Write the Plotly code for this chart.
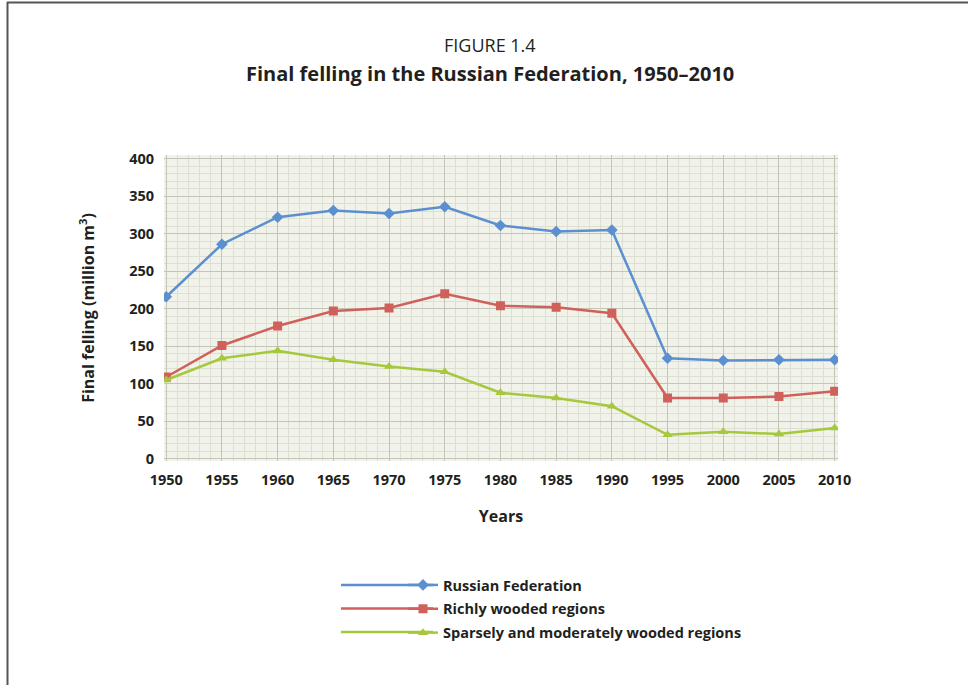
import plotly.graph_objects as go

years = [1950, 1955, 1960, 1965, 1970, 1975, 1980, 1985, 1990, 1995, 2000, 2005, 2010]
russian_federation = [216, 286, 322, 331, 327, 336, 311, 303, 305, 134, 131, 132, 132]
richly_wooded = [109, 151, 177, 197, 201, 220, 204, 202, 194, 81, 81, 83, 90]
sparsely_wooded = [105, 134, 144, 132, 123, 116, 88, 81, 70, 32, 36, 33, 41]

series_names = ["Russian Federation", "Richly wooded regions", "Sparsely and moderately wooded regions"]
colors = ["#5b8fd0", "#d0605a", "#a5c83c"]
symbols = ["diamond", "square", "triangle-up"]

FONT = "Open Sans"
TXT = "#231f20"

fig = go.Figure()
for i, (name, vals, c, s) in enumerate(zip(series_names, [russian_federation, richly_wooded, sparsely_wooded], colors, symbols)):
    fig.add_trace(go.Scatter(
        x=years, y=vals, name=name, mode="lines+markers", legendgroup=f"g{i}",
        line=dict(color=c, width=2.5),
        marker=dict(symbol=s, size=9, color=c),
    ))

W, H = 968, 685
L, R, T, B = 164, 968 - 838, 155, 685 - 461
pw, ph = W - L - R, H - T - B

def px(x):
    return (x - L) / pw

def py(y):
    return 1 - (y - T) / ph

legend_rows = [585, 608.5, 632]
shapes = [
    dict(type="line", xref="paper", yref="paper", x0=px(7), x1=px(968), y0=py(2.5), y1=py(2.5),
         line=dict(color="#555555", width=2)),
    dict(type="line", xref="paper", yref="paper", x0=px(7.5), x1=px(7.5), y0=py(2), y1=py(690),
         line=dict(color="#555555", width=2)),
]
for yy, c in zip(legend_rows, colors):
    shapes.append(dict(type="line", xref="paper", yref="paper", x0=px(341), x1=px(433), y0=py(yy), y1=py(yy),
                       line=dict(color=c, width=2.5), layer="below"))

fig.update_layout(
    width=W, height=H,
    margin=dict(l=L, r=R, t=T, b=B),
    paper_bgcolor="white",
    plot_bgcolor="#f1f2e9",
    font=dict(family=FONT, color=TXT),
    showlegend=True,
    legend=dict(
        x=px(403), y=py(569), xanchor="left", yanchor="top",
        font=dict(size=14.5, family=FONT, color=TXT, weight="bold"),
        bgcolor="rgba(0,0,0,0)", tracegroupgap=2,
    ),
    annotations=[
        dict(text="FIGURE 1.4", x=px(490), y=py(45), xref="paper", yref="paper", yanchor="middle",
             showarrow=False, font=dict(size=18, family=FONT, color=TXT)),
        dict(text="<b>Final felling in the Russian Federation, 1950–2010</b>", x=px(490), y=py(73),
             xref="paper", yref="paper", yanchor="middle", showarrow=False,
             font=dict(size=20, family=FONT, color=TXT)),
    ],
    shapes=shapes,
)

fig.update_xaxes(
    range=[1949.8, 2010.3], tickmode="array", tickvals=years, ticktext=[str(y) for y in years],
    tickfont=dict(size=14.5, family=FONT, color=TXT, weight="bold"),
    ticks="outside", ticklen=6, tickcolor="rgba(0,0,0,0)",
    showgrid=True, gridcolor="#c2c5b8", gridwidth=1, zeroline=False, showline=False,
    minor=dict(dtick=1, tick0=1950, showgrid=True, gridcolor="#dcdfd2", gridwidth=1),
    title=dict(text="<b>Years</b>", font=dict(size=16, family=FONT, color=TXT), standoff=22),
)
fig.update_yaxes(
    range=[-3, 405], tickmode="linear", tick0=0, dtick=50,
    tickfont=dict(size=14.5, family=FONT, color=TXT, weight="bold"),
    ticks="outside", ticklen=6, tickcolor="rgba(0,0,0,0)",
    showgrid=True, gridcolor="#c2c5b8", gridwidth=1, zeroline=False, showline=False,
    minor=dict(dtick=10, tick0=0, showgrid=True, gridcolor="#dcdfd2", gridwidth=1),
    title=dict(text="<b>Final felling (million m<sup>3</sup>)</b>", font=dict(size=16, family=FONT, color=TXT), standoff=30),
)

fig.write_html("out.html", config={"displayModeBar": False},
               post_script="document.body.style.margin='0';")
